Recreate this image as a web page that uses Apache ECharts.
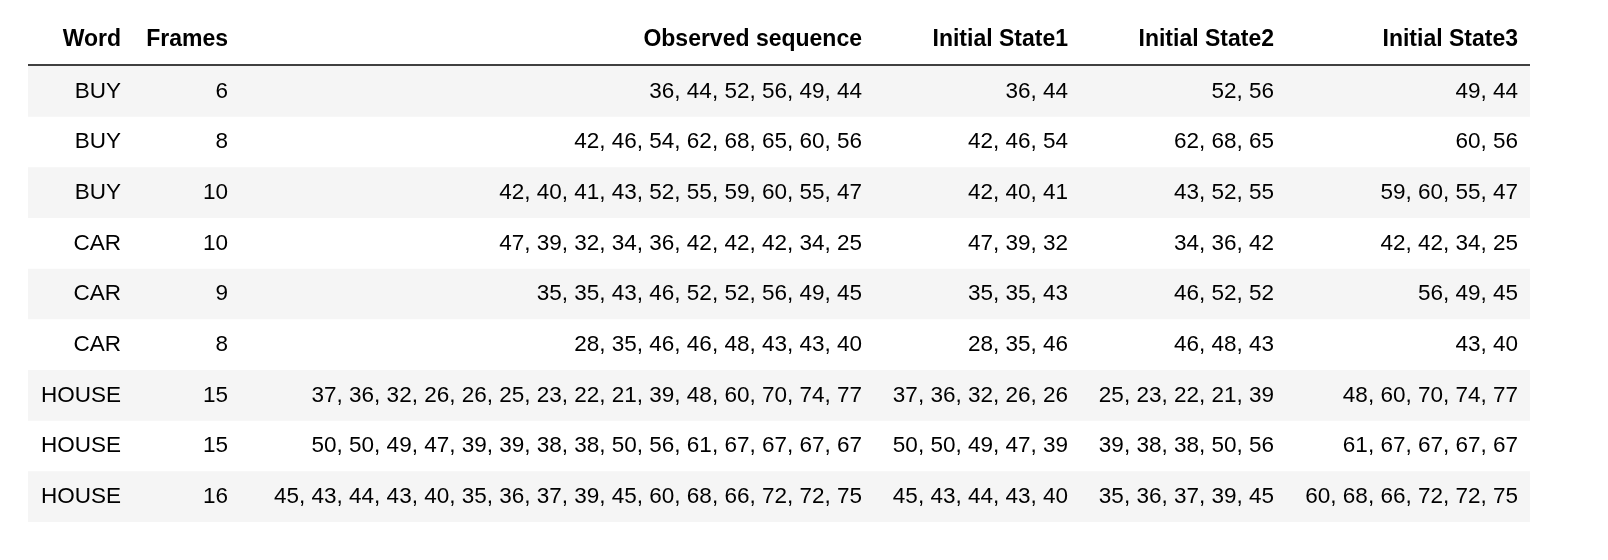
<!DOCTYPE html>
<html><head><meta charset="utf-8">
<script src="https://cdn.jsdelivr.net/npm/echarts@6/dist/echarts.min.js"></script>
<style>html,body{margin:0;padding:0;background:#fff}#c{width:1608px;height:560px}</style>
</head><body><div id="c"></div>
<script>
const headers = ['Word','Frames','Observed sequence','Initial State1','Initial State2','Initial State3'];
const words = ['BUY','BUY','BUY','CAR','CAR','CAR','HOUSE','HOUSE','HOUSE'];
const frames = [6,8,10,10,9,8,15,15,16];
const observed = [
 '36, 44, 52, 56, 49, 44',
 '42, 46, 54, 62, 68, 65, 60, 56',
 '42, 40, 41, 43, 52, 55, 59, 60, 55, 47',
 '47, 39, 32, 34, 36, 42, 42, 42, 34, 25',
 '35, 35, 43, 46, 52, 52, 56, 49, 45',
 '28, 35, 46, 46, 48, 43, 43, 40',
 '37, 36, 32, 26, 26, 25, 23, 22, 21, 39, 48, 60, 70, 74, 77',
 '50, 50, 49, 47, 39, 39, 38, 38, 50, 56, 61, 67, 67, 67, 67',
 '45, 43, 44, 43, 40, 35, 36, 37, 39, 45, 60, 68, 66, 72, 72, 75'];
const state1 = ['36, 44','42, 46, 54','42, 40, 41','47, 39, 32','35, 35, 43','28, 35, 46','37, 36, 32, 26, 26','50, 50, 49, 47, 39','45, 43, 44, 43, 40'];
const state2 = ['52, 56','62, 68, 65','43, 52, 55','34, 36, 42','46, 52, 52','46, 48, 43','25, 23, 22, 21, 39','39, 38, 38, 50, 56','35, 36, 37, 39, 45'];
const state3 = ['49, 44','60, 56','59, 60, 55, 47','42, 42, 34, 25','56, 49, 45','43, 40','48, 60, 70, 74, 77','61, 67, 67, 67, 67','60, 68, 66, 72, 72, 75'];

const columns = [words, frames, observed, state1, state2, state3];
const colRight = [93, 200, 834, 1040, 1246, 1490]; // offsets from table left (28px)
const tableW = 1502;
const FONT = '"Liberation Sans", Arial, Helvetica, sans-serif';

const data = [];
for (let r = 0; r < words.length; r++)
  for (let c = 0; c < columns.length; c++) data.push([c, r, String(columns[c][r])]);

const chart = echarts.init(document.getElementById('c'));
chart.setOption({
  animation: false,
  grid: {left: 28, right: 1608 - 28 - tableW, top: 66, bottom: 38},
  xAxis: {type: 'value', min: 0, max: tableW, show: false},
  yAxis: {type: 'category', inverse: true, data: words.map((_, i) => i), show: false},
  graphic: headers.map((h, i) => ({
    type: 'text', x: 28 + colRight[i], y: 40,
    style: {text: h, font: 'bold 23px ' + FONT, fill: '#000', align: 'right', verticalAlign: 'middle'}
  })).concat([{type: 'line', shape: {x1: 28, y1: 65, x2: 28 + tableW, y2: 65}, style: {stroke: '#000', lineWidth: 1.5}}]),
  series: [{
    type: 'custom',
    data: data,
    encode: {x: 0, y: 1},
    renderItem: function (params, api) {
      const c = api.value(0), r = api.value(1);
      const p = api.coord([colRight[c], r]);
      const h = api.size([0, 1])[1];
      const children = [];
      if (c === 0 && r % 2 === 0) {
        const p0 = api.coord([0, r]);
        children.push({type: 'rect', shape: {x: p0[0], y: p0[1] - h / 2, width: api.size([tableW, 0])[0], height: h},
          style: {fill: '#f5f5f5'}, z2: 0});
      }
      children.push({type: 'text', x: p[0], y: p[1], z2: 10,
        style: {text: data[params.dataIndex][2], font: '22.5px ' + FONT, fill: '#000', align: 'right', verticalAlign: 'middle'}});
      return {type: 'group', children: children};
    }
  }]
});
</script></body></html>
